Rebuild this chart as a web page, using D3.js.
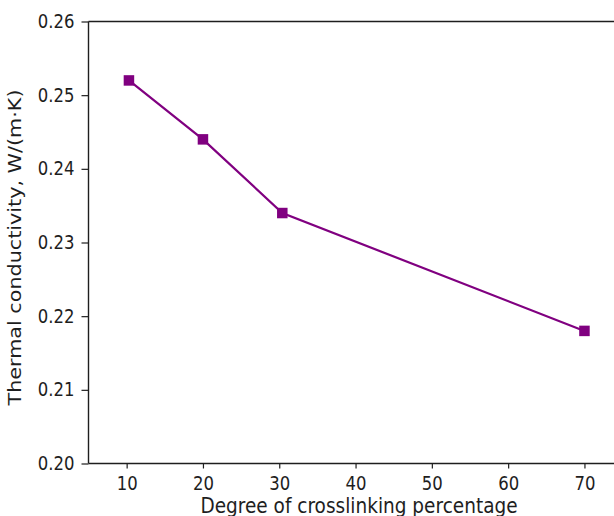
<!DOCTYPE html>
<html>
<head>
<meta charset="utf-8">
<script src="https://cdn.jsdelivr.net/npm/d3@7"></script>
<style>
  html, body { margin: 0; padding: 0; background: #fff; overflow: hidden; }
  svg { display: block; }
  text { font-family: "DejaVu Sans", sans-serif; fill: #1e1e1e; }
</style>
</head>
<body>
<svg id="chart" width="614" height="516"></svg>
<script>
// Crosslinking degree (%) and measured thermal conductivity
const crosslinking = [10.3, 20, 30.4, 70];
const conductivity = [0.252, 0.244, 0.234, 0.218];
const xTicks = [10, 20, 30, 40, 50, 60, 70];
const yTicks = [0.20, 0.21, 0.22, 0.23, 0.24, 0.25, 0.26];

const svg = d3.select("#chart");
const plotLeft = 88.5, plotTop = 21.5, plotBottom = 463.5, plotRight = 622.6;

const x = d3.scaleLinear().domain([5, 75]).range([plotLeft, plotRight]);
const y = d3.scaleLinear().domain([0.20, 0.26]).range([plotBottom, plotTop]);

const tickFont = 16.5;
const titleFont = 18.5;
const tall = 1.15; // glyphs are drawn slightly taller than wide

// x axis
const xAxis = svg.append("g")
  .attr("transform", `translate(0,${plotBottom})`)
  .call(d3.axisBottom(x).tickValues(xTicks).tickFormat(d3.format("d")).tickSize(5).tickPadding(8));
// y axis
const yAxis = svg.append("g")
  .attr("transform", `translate(${plotLeft},0)`)
  .call(d3.axisLeft(y).tickValues(yTicks).tickFormat(d3.format(".2f")).tickSize(7).tickPadding(7));

[xAxis, yAxis].forEach(g => {
  g.selectAll(".tick line").attr("stroke", "#1e1e1e").attr("stroke-width", 1.2);
  g.selectAll(".tick text")
    .style("font-family", "'DejaVu Sans', sans-serif")
    .style("font-size", tickFont + "px")
    .attr("fill", "#1e1e1e");
});
// stretch the tick labels vertically about their own anchor
xAxis.selectAll(".tick text").each(function () {
  const t = d3.select(this), ty = +t.attr("y");
  t.attr("transform", `translate(0,${ty}) scale(1,${tall}) translate(0,${-ty})`);
});
yAxis.selectAll(".tick text").attr("transform", `scale(1,${tall})`);

// plain spines without outer tick stubs
xAxis.select(".domain").attr("d", `M${plotLeft},0H${plotRight}`)
  .attr("stroke", "#1e1e1e").attr("stroke-width", 1.4);
yAxis.select(".domain").attr("d", `M0,${plotBottom}V${plotTop}`)
  .attr("stroke", "#1e1e1e").attr("stroke-width", 1.4);

// top spine
svg.append("line")
  .attr("x1", plotLeft).attr("x2", plotRight)
  .attr("y1", plotTop).attr("y2", plotTop)
  .attr("stroke", "#1e1e1e").attr("stroke-width", 1.4);

// axis titles
svg.append("text")
  .attr("transform", `translate(359,513) scale(1,${tall})`)
  .attr("text-anchor", "middle")
  .style("font-size", titleFont + "px")
  .text("Degree of crosslinking percentage");

svg.append("text")
  .attr("transform", `translate(20.5,247.5) rotate(-90) scale(1.12,1)`)
  .attr("text-anchor", "middle")
  .style("font-size", titleFont + "px")
  .text("Thermal conductivity, W/(m·K)");

// series
const pts = crosslinking.map((c, i) => [c, conductivity[i]]);
const color = "#800080";

svg.append("path")
  .datum(pts)
  .attr("fill", "none")
  .attr("stroke", color)
  .attr("stroke-width", 2.2)
  .attr("d", d3.line().x(d => x(d[0])).y(d => y(d[1])));

const ms = 10.5;
svg.selectAll("rect.marker")
  .data(pts)
  .enter().append("rect")
  .attr("class", "marker")
  .attr("x", d => x(d[0]) - ms / 2)
  .attr("y", d => y(d[1]) - ms / 2)
  .attr("width", ms)
  .attr("height", ms)
  .attr("fill", color);
</script>
</body>
</html>
